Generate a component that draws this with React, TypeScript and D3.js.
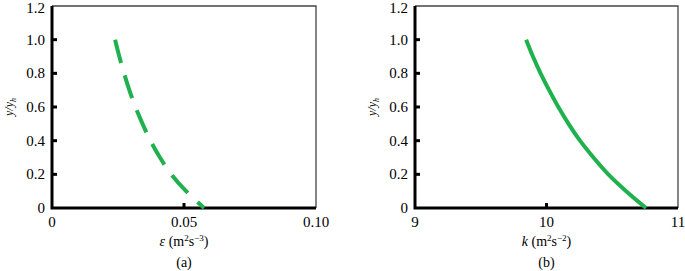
import React, { useEffect, useRef } from 'react';
import * as d3 from 'd3';

// y/yh levels shared by both profiles
const yLevels = [1.0, 0.9, 0.8, 0.7, 0.6, 0.5, 0.4, 0.3, 0.2, 0.1, 0.0];
// (a) dissipation rate epsilon
const epsValues = [0.0239, 0.0255, 0.0273, 0.0293, 0.0316, 0.0343, 0.0373, 0.0409, 0.0452, 0.0508, 0.0576];
// (b) turbulent kinetic energy k
const kValues = [9.845, 9.897, 9.955, 10.02, 10.09, 10.168, 10.255, 10.357, 10.47, 10.606, 10.757];

const yTicks = [0, 0.2, 0.4, 0.6, 0.8, 1.0, 1.2];
const epsTickLabels = ['0', '0.05', '0.10'];
const kTickLabels = ['9', '10', '11'];

const GREEN = '#1fb14e';
const FONT = '"Liberation Serif", "Times New Roman", Tinos, serif';

type Panel = {
	left: number;
	right: number;
	domain: [number, number];
	xs: number[];
	tickLabels: string[];
	dashed: boolean;
	sym: string;
	unit: string;
	tag: string;
};

const drawPanel = (svg: d3.Selection<SVGSVGElement, unknown, null, undefined>, p: Panel) => {
	const top = 6;
	const bottom = 208;
	const x = d3.scaleLinear().domain(p.domain).range([p.left, p.right]);
	const y = d3.scaleLinear().domain([0, 1.2]).range([bottom, top]);
	const g = svg.append('g').style('font-family', FONT);

	// frame: thin grey top/right, heavy black left/bottom
	g.append('path')
		.attr('d', `M${ p.left },${ top }H${ p.right }V${ bottom }`)
		.attr('fill', 'none')
		.attr('stroke', '#444')
		.attr('stroke-width', 1.3);
	g.append('path')
		.attr('d', `M${ p.left },${ top }V${ bottom }H${ p.right }`)
		.attr('fill', 'none')
		.attr('stroke', '#000')
		.attr('stroke-width', 3);

	// inward y ticks + labels
	yTicks.forEach((t) => {
		if (t > 0 && t < 1.2) {
			g.append('line')
				.attr('x1', p.left).attr('x2', p.left + 5)
				.attr('y1', y(t)).attr('y2', y(t))
				.attr('stroke', '#000').attr('stroke-width', 3);
		}
		g.append('text')
			.attr('x', p.left - 7).attr('y', Math.max(y(t) + 5, 13))
			.attr('text-anchor', 'end')
			.style('font-size', '15px')
			.text(t === 0 ? '0' : t.toFixed(1));
	});

	// x ticks (only the middle one is marked)
	const xTickVals = [p.domain[0], (p.domain[0] + p.domain[1]) / 2, p.domain[1]];
	xTickVals.forEach((v, i) => {
		if (i === 1) {
			g.append('line')
				.attr('x1', x(v)).attr('x2', x(v))
				.attr('y1', bottom).attr('y2', bottom - 5)
				.attr('stroke', '#000').attr('stroke-width', 3);
		}
		g.append('text')
			.attr('x', x(v)).attr('y', 227)
			.attr('text-anchor', 'middle')
			.style('font-size', '15px')
			.text(p.tickLabels[i]);
	});

	// x axis title
	const title = g.append('text')
		.attr('x', (p.left + p.right) / 2).attr('y', 246)
		.attr('text-anchor', 'middle')
		.style('font-size', '14px');
	title.append('tspan').style('font-style', 'italic').text(p.sym);
	title.append('tspan').text(' (m');
	title.append('tspan').style('font-size', '9px').attr('dy', -5).text('2');
	title.append('tspan').attr('dy', 5).text('s');
	title.append('tspan').style('font-size', '9px').attr('dy', -5).text(p.unit);
	title.append('tspan').attr('dy', 5).text(')');

	g.append('text')
		.attr('x', (p.left + p.right) / 2).attr('y', 267)
		.attr('text-anchor', 'middle')
		.style('font-size', '14px')
		.text(p.tag);

	// y axis title y/y_h
	const yl = g.append('text')
		.attr('transform', `translate(${ p.left - 39 },${ 107 }) rotate(-90)`)
		.attr('text-anchor', 'middle')
		.style('font-size', '12px')
		.style('font-style', 'italic');
	yl.append('tspan').text('y/y');
	yl.append('tspan').style('font-size', '8px').attr('dy', 3).text('h');

	// profile curve
	const line = d3.line<number>()
		.x((d, i) => x(p.xs[i]))
		.y((d) => y(d))
		.curve(d3.curveCatmullRom);
	g.append('path')
		.attr('d', line(yLevels))
		.attr('fill', 'none')
		.attr('stroke', GREEN)
		.attr('stroke-width', 4)
		.attr('stroke-dasharray', p.dashed ? '24,13' : null);
};

const App = () => {
	const ref = useRef<SVGSVGElement>(null);

	useEffect(() => {
		const svg = d3.select(ref.current as SVGSVGElement);
		svg.selectAll('*').remove();
		drawPanel(svg, {
			left: 52, right: 316, domain: [0, 0.1], xs: epsValues,
			tickLabels: epsTickLabels, dashed: true, sym: 'ε', unit: '−3', tag: '(a)'
		});
		drawPanel(svg, {
			left: 415, right: 678, domain: [9, 11], xs: kValues,
			tickLabels: kTickLabels, dashed: false, sym: 'k', unit: '−2', tag: '(b)'
		});
	}, []);

	return (
		<svg ref={ ref } width={ 685 } height={ 271 }
			style={ { position: 'absolute', left: 0, top: 0, background: '#fff' } }/>
	);
};

export default App;
